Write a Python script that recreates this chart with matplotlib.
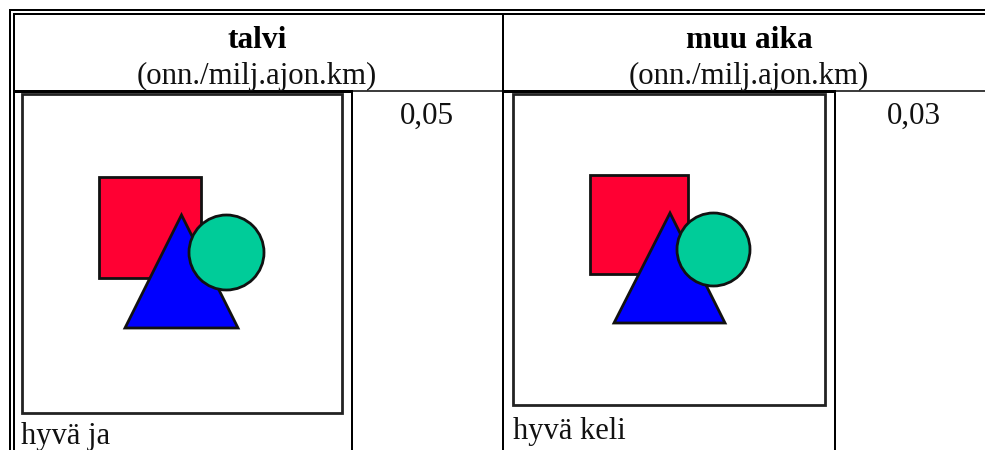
import matplotlib
matplotlib.use("Agg")
import matplotlib.pyplot as plt
from matplotlib.patches import Rectangle, Polygon, Circle

# Table content
headers = ["talvi", "muu aika"]
units = ["(onn./milj.ajon.km)", "(onn./milj.ajon.km)"]
values = ["0,05", "0,03"]
captions = ["hyvä ja", "hyvä keli"]

# Colours of the three symbol shapes
square_color = "#ff0033"
triangle_color = "#0000ff"
circle_color = "#00cc99"

# Image box and shapes per column, in pixels (left, top, right, bottom)
boxes = [(21.5, 93.5, 342, 412.5), (513, 93.5, 825, 405)]
squares = [(99, 177, 200.5, 278), (589.5, 175, 687.5, 273.5)]
triangles = [[(181.5, 215), (238, 328), (125, 328)], [(670, 213), (725, 323), (614, 323)]]
circles = [(226.5, 252.5, 37.5), (713.5, 249.5, 36.5)]

plt.rcParams["font.family"] = ["Liberation Serif", "DejaVu Serif"]

fig = plt.figure(figsize=(9.85, 4.5), dpi=100)
ax = fig.add_axes([0, 0, 1, 1])
ax.set_xlim(0, 985)
ax.set_ylim(450, 0)
ax.axis("off")


def hline(x0, x1, y, lw=2):
    ax.plot([x0, x1], [y, y], color="black", lw=lw * 0.72, solid_capstyle="butt")


def vline(x, y0, y1, lw=2):
    ax.plot([x, x], [y0, y1], color="black", lw=lw * 0.72, solid_capstyle="butt")


# Double outer border
hline(9, 985, 10, 2)
hline(13, 985, 14, 2)
vline(10, 9, 450, 2)
vline(13.5, 13, 450, 2)

# Inner rules
vline(502.5, 14, 450, 2)
vline(351.5, 90, 450, 2)
vline(834.5, 90, 450, 2)
hline(14, 351, 91, 3)
hline(352, 502, 90.5, 1.5)
hline(503, 834, 91, 3)
hline(835, 985, 90.5, 1.5)

# Header and value text
for i, center in enumerate([257, 749]):
    ax.text(center, 48, headers[i], fontsize=22.6, fontweight="bold", ha="center", va="baseline")
    ax.text(center, 84, units[i], fontsize=22.2, ha="center", va="baseline", color="#111111")

ax.text(400, 123.5, values[0], fontsize=22.4, ha="left", va="baseline", color="#111111")
ax.text(887, 123.5, values[1], fontsize=22.4, ha="left", va="baseline", color="#111111")
ax.text(21, 444, captions[0], fontsize=22, ha="left", va="baseline", color="#111111")
ax.text(513, 439.5, captions[1], fontsize=22, ha="left", va="baseline", color="#111111")

# Image boxes with the square, triangle and circle
for i in range(2):
    l, t, r, b = boxes[i]
    ax.add_patch(Rectangle((l, t), r - l, b - t, fill=False, ec="#222222", lw=2))
    l, t, r, b = squares[i]
    ax.add_patch(Rectangle((l, t), r - l, b - t, fc=square_color, ec="#111111", lw=2, zorder=2))
    ax.add_patch(Polygon(triangles[i], closed=True, fc=triangle_color, ec="#111111", lw=2, zorder=3))
    cx, cy, rad = circles[i]
    ax.add_patch(Circle((cx, cy), rad, fc=circle_color, ec="#111111", lw=2, zorder=4))

fig.savefig("out.png", dpi=100)
